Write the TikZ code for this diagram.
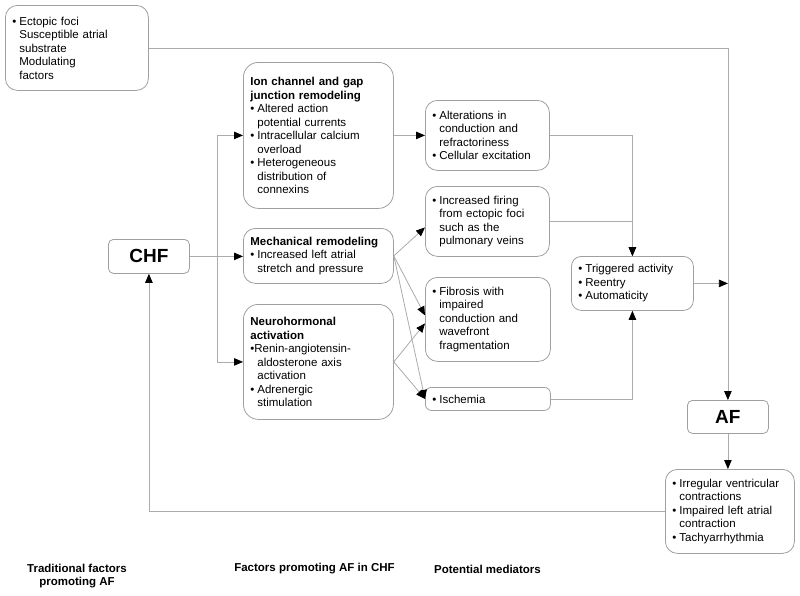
\documentclass[tikz,border=0pt]{standalone}
\usepackage{fontspec}
\setmainfont{Liberation Sans}
\usetikzlibrary{arrows.meta}
\definecolor{boxgray}{HTML}{A0A0A0}
\definecolor{linegray}{HTML}{ABABAB}
\newcommand{\bul}{\makebox[7pt][l]{\textbullet}}
\newcommand{\ind}{\hspace*{7pt}}
\tikzset{
  box/.style={draw=boxgray, line width=0.8pt, rounded corners=12pt, fill=white,
    inner xsep=7pt, inner ysep=0pt, align=left, anchor=north west,
    font=\fontsize{11.5}{13.5}\selectfont},
  bigbox/.style={draw=boxgray, line width=0.8pt, rounded corners=5pt, fill=white,
    inner sep=0pt, align=center, anchor=north west,
    font=\fontsize{19}{22}\selectfont\bfseries},
  conn/.style={draw=linegray, line width=0.8pt},
  arr/.style={conn, -{Triangle[length=9pt,width=7.5pt,color=black]}},
  lab/.style={align=center, font=\fontsize{11.5}{13.5}\selectfont\bfseries},
}
\begin{document}
\begin{tikzpicture}[x=1pt,y=-1pt]
\useasboundingbox (0,0) rectangle (800,595);

\node[box, minimum width=143pt, minimum height=85pt, text width=129pt] (trad) at (5,5)
  {\bul Ectopic foci\\ \ind Susceptible atrial\\ \ind substrate\\ \ind Modulating\\ \ind factors};

\node[box, minimum width=150pt, minimum height=146pt, text width=136pt, rounded corners=15pt] (ion) at (243,62)
  {\textbf{Ion channel and gap}\\ \textbf{junction remodeling}\\
   \bul Altered action\\ \ind potential currents\\
   \bul Intracellular calcium\\ \ind overload\\
   \bul Heterogeneous\\ \ind distribution of\\ \ind connexins};

\node[box, minimum width=150pt, minimum height=55pt, text width=136pt] (mech) at (243,228)
  {\textbf{Mechanical remodeling}\\ \bul Increased left atrial\\ \ind stretch and pressure};

\node[box, minimum width=150pt, minimum height=115pt, text width=136pt, rounded corners=15pt] (neuro) at (243,304)
  {\textbf{Neurohormonal}\\ \textbf{activation}\\
   \makebox[4pt][l]{\textbullet}Renin-angiotensin-\\ \ind aldosterone axis\\ \ind activation\\
   \bul Adrenergic\\ \ind stimulation};

\node[box, minimum width=124pt, minimum height=70pt, text width=110pt] (alt) at (425,100)
  {\bul Alterations in\\ \ind conduction and\\ \ind refractoriness\\ \bul Cellular excitation};

\node[box, minimum width=124pt, minimum height=70pt, text width=110pt] (fire) at (425,186)
  {\bul Increased firing\\ \ind from ectopic foci\\ \ind such as the\\ \ind pulmonary veins};

\node[box, minimum width=125pt, minimum height=84pt, text width=111pt] (fib) at (425,277)
  {\bul Fibrosis with\\ \ind impaired\\ \ind conduction and\\ \ind wavefront\\ \ind fragmentation};

\node[box, minimum width=125pt, minimum height=23pt, text width=111pt, rounded corners=6pt] (isch) at (425,387)
  {\bul Ischemia};

\node[box, minimum width=122pt, minimum height=54pt, text width=108pt, rounded corners=10pt] (trig) at (571,256)
  {\bul Triggered activity\\ \bul Reentry\\ \bul Automaticity};

\node[box, minimum width=129pt, minimum height=84pt, text width=115pt, inner xsep=6pt] (irr) at (665,469)
  {\bul Irregular ventricular\\ \ind contractions\\ \bul Impaired left atrial\\ \ind contraction\\ \bul Tachyarrhythmia};

\node[bigbox, minimum width=81pt, minimum height=34pt] (chf) at (108,239) {CHF};
\node[bigbox, minimum width=81pt, minimum height=33pt] (af) at (687,400) {AF};

\node[lab] (l1) at (77,576) {Traditional factors\\promoting AF};
\node[lab] (l2) at (314.5,569) {Factors promoting AF in CHF};
\node[lab] (l3) at (487.5,569) {Potential mediators};

% connectors
\draw[arr] (trad.east) -| (af.north);
\draw[arr] (chf.east) -- (chf.east -| mech.west);
\coordinate (br) at (217,256);
\draw[conn] (br |- ion.west) -- (br |- neuro.west);
\draw[arr] (br |- ion.west) -- (ion.west);
\draw[arr] (br |- neuro.west) -- (neuro.west);
\draw[arr] (ion.east) -- (ion.east -| alt.west);
\draw[arr] (alt.east) -| (trig.north);
\draw[arr] (fire.east) -| (trig.north);
\draw[arr] (isch.east) -| (trig.south);
\draw[arr] (trig.east) -- (trig.east -| af.north);
\draw[arr] (af.south) -- (af.south |- irr.north);
\draw[arr] (irr.west) -| (chf.south);
\draw[arr] (mech.east) -- ([yshift=-6pt]fire.west);
\draw[arr] (mech.east) -- ([yshift=4pt]fib.west);
\draw[arr] (mech.east) -- (isch.west);
\draw[arr] (neuro.east) -- ([yshift=-4pt]fib.west);
\draw[arr] (neuro.east) -- (isch.west);
\end{tikzpicture}
\end{document}
